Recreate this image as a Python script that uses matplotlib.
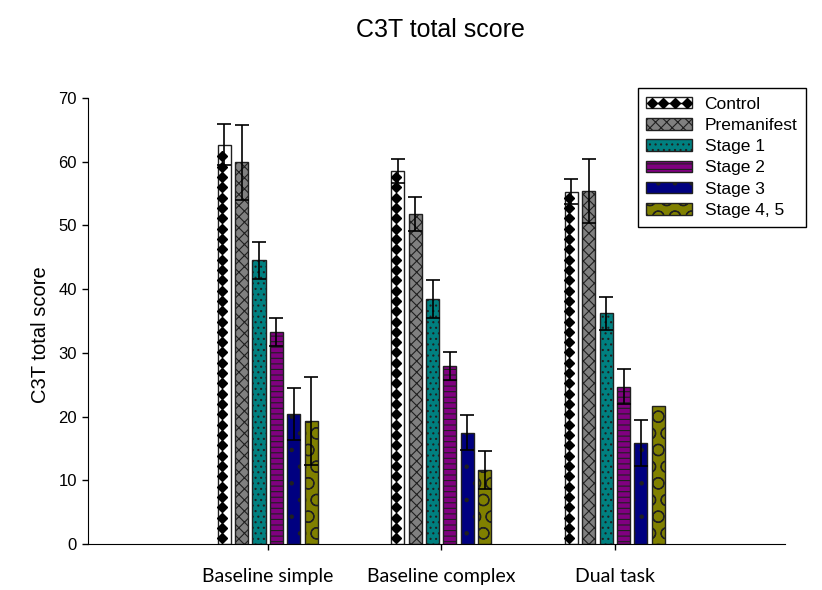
import numpy as np
import matplotlib
matplotlib.use('Agg')
import matplotlib.pyplot as plt
from matplotlib.patches import Patch
from matplotlib.lines import Line2D
from matplotlib.legend_handler import HandlerTuple

plt.rcParams['font.family'] = ['Liberation Sans', 'DejaVu Sans']
plt.rcParams['hatch.linewidth'] = 0.8

categories = ['Baseline simple', 'Baseline complex', 'Dual task']
groups = ['Control', 'Premanifest', 'Stage 1', 'Stage 2', 'Stage 3', 'Stage 4, 5']

control = [62.7, 58.6, 55.3]
premanifest = [59.9, 51.8, 55.4]
stage1 = [44.5, 38.4, 36.2]
stage2 = [33.2, 28.0, 24.7]
stage3 = [20.4, 17.5, 15.9]
stage45 = [19.3, 11.6, 21.6]

control_err = [3.2, 1.9, 2.0]
premanifest_err = [5.9, 2.6, 5.0]
stage1_err = [2.9, 3.0, 2.6]
stage2_err = [2.2, 2.2, 2.7]
stage3_err = [4.1, 2.7, 3.6]
stage45_err = [6.9, 3.0, np.nan]

means = [control, premanifest, stage1, stage2, stage3, stage45]
errs = [control_err, premanifest_err, stage1_err, stage2_err, stage3_err, stage45_err]
colors = ['white', '#808080', '#008080', '#800080', '#000080', '#808000']
hatches = [None, 'xxx', '...', '---', '.', 'O']
edge = '#202020'

fig = plt.figure(figsize=(8.22, 5.90), dpi=100)
ax = fig.add_axes([88 / 822, 46 / 590, 697 / 822, 446 / 590])

x = np.arange(len(categories))
width = 0.075
handles = []
for i, (m, e) in enumerate(zip(means, errs)):
    pos = x + (i - 2.5) * 0.1
    ax.bar(pos, m, width, color=colors[i], edgecolor=edge, linewidth=1.0,
           hatch=hatches[i], zorder=2)
    ax.errorbar(pos, m, yerr=e, fmt='none', ecolor='black', elinewidth=1.2,
                capsize=5, capthick=1.2, zorder=4)
    patch = Patch(facecolor=colors[i], edgecolor=edge, hatch=hatches[i])
    if i == 0:
        # diamond pattern for the control bars
        for xi, v in zip(pos, m):
            ys = np.arange(0.9, v - 0.4, 1.62)
            ax.plot(np.full_like(ys, xi - 0.012), ys, ls='none', marker='D',
                    ms=5.0, color='black', zorder=3)
        dia = Line2D([], [], ls='-', lw=1, marker='D', ms=5.0, color='black')
        handles.append((patch, dia))
    else:
        handles.append(patch)

ax.set_xlim(-1.035, 2.98)
ax.set_ylim(0, 70)
ax.set_yticks(np.arange(0, 71, 10))
ax.set_xticks(x)
ax.set_xticklabels(categories, fontfamily='Lato', fontsize=14)
ax.spines['top'].set_visible(False)
ax.spines['right'].set_visible(False)
ax.tick_params(axis='y', direction='out', length=4, width=1, labelsize=12, pad=4)
ax.tick_params(axis='x', direction='out', length=4, width=1, pad=13)

fig.text(440 / 822, 1 - 30 / 590, 'C3T total score', fontsize=18,
         ha='center', va='center')
fig.text(40 / 822, 1 - 335 / 590, 'C3T total score', fontsize=14.5,
         rotation=90, ha='center', va='center')

ax.legend(handles, groups, loc='upper right',
          bbox_to_anchor=(806 / 822, 1 - 88 / 590), bbox_transform=fig.transFigure,
          fontsize=12.5, frameon=True, fancybox=False, framealpha=1,
          edgecolor='black', borderaxespad=0, borderpad=0.5,
          labelspacing=0.36, handlelength=2.65, handleheight=0.65,
          handletextpad=0.7, numpoints=4,
          handler_map={tuple: HandlerTuple(ndivide=1)})

plt.savefig('out.png', dpi=100)
